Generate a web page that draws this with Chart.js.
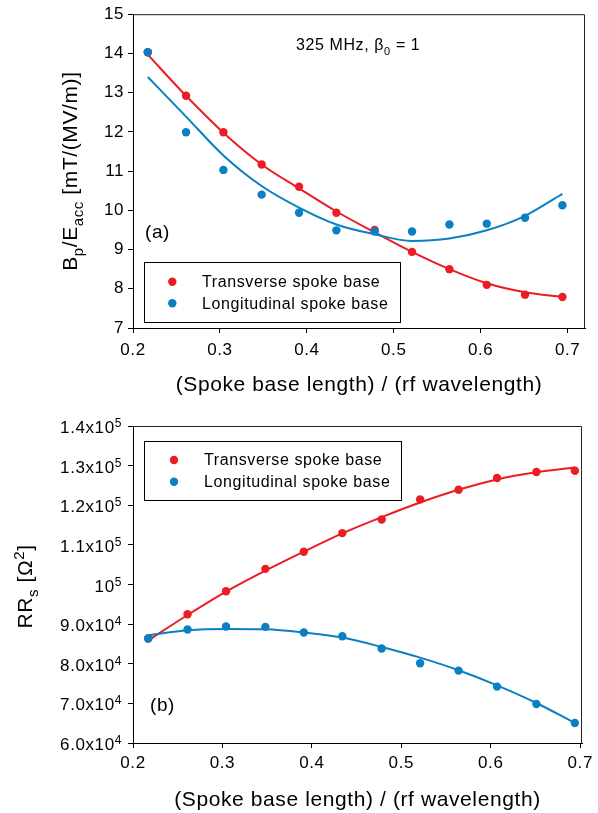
<!DOCTYPE html>
<html>
<head>
<meta charset="utf-8">
<script src="https://cdn.jsdelivr.net/npm/chart.js@4.4.1/dist/chart.umd.min.js"></script>
<style>
    body { margin: 0; background: #fff; }
    .panel { position: absolute; left: 0; width: 598px; }
</style>
</head>
<body>
<div class="panel" style="top:0;height:400px"><canvas id="bpChart"></canvas></div>
<div class="panel" style="top:400px;height:413px"><canvas id="rrChart"></canvas></div>

<script>
// ---------- DATA ----------
const spokeBase = [0.217, 0.261, 0.304, 0.348, 0.391, 0.434, 0.478, 0.521, 0.564, 0.607, 0.651, 0.694];

// (a) Bp/Eacc [mT/(MV/m)]
const bpTransverse      = [14.03, 12.92, 11.99, 11.17, 10.60, 9.94, 9.50, 8.94, 8.50, 8.10, 7.85, 7.79];
const bpLongitudinal    = [14.03, 11.99, 11.03, 10.40, 9.94, 9.49, 9.46, 9.46, 9.64, 9.66, 9.81, 10.13];
const bpTransverseFit   = [13.97, 12.92, 11.98, 11.17, 10.56, 9.97, 9.44, 8.94, 8.50, 8.14, 7.91, 7.79];
const bpLongitudinalFit = [13.40, 12.39, 11.40, 10.62, 10.07, 9.64, 9.39, 9.22, 9.28, 9.49, 9.86, 10.42];

// (b) RRs [Ohm^2]
const rrTransverse      = [86360, 92500, 98310, 103950, 108250, 112970, 116420, 121480, 123910, 126860, 128380, 128710];
const rrLongitudinal    = [86360, 88630, 89390, 89300, 87880, 86940, 83830, 80120, 78270, 74230, 69840, 65040];
const rrTransverseFit   = [85900, 92300, 98200, 103500, 108300, 112900, 117000, 120700, 123900, 126500, 128300, 129500];
const rrLongitudinalFit = [87200, 88460, 88790, 88700, 87900, 86620, 84240, 81550, 78360, 74560, 70100, 65040];

const seriesNames = ["Transverse spoke base", "Longitudinal spoke base"];
const xTicks = [0.2, 0.3, 0.4, 0.5, 0.6, 0.7];
const rrTickValues = [60000, 70000, 80000, 90000, 100000, 110000, 120000, 130000, 140000];
const rrTickText = ["6.0x10", "7.0x10", "8.0x10", "9.0x10", "10", "1.1x10", "1.2x10", "1.3x10", "1.4x10"];
const rrTickExp  = ["4", "4", "4", "4", "5", "5", "5", "5", "5"];

const RED = "#ec1c24";
const BLUE = "#0b7fc3";
const FONT = "Arial, 'Liberation Sans', sans-serif";

const toPoints = (xs, ys) => xs.map((x, i) => ({ x: x, y: ys[i] }));

// ---------- RICH TEXT (sub / superscripts) ----------
function partFont(p, size, small) {
    return ((p.sub || p.sup) ? small : size) + "px " + FONT;
}

function drawRich(ctx, parts, x, y, size, small, align) {
    let total = 0;
    parts.forEach(p => {
        ctx.font = partFont(p, size, small);
        total += ctx.measureText(p.t).width;
    });
    let cx = x;
    if (align === "center") cx = x - total / 2;
    if (align === "right") cx = x - total;
    ctx.textAlign = "left";
    parts.forEach(p => {
        ctx.font = partFont(p, size, small);
        let dy = 0;
        if (p.sub) dy = p.subDy || 6;
        if (p.sup) dy = p.supDy || -8.5;
        ctx.fillText(p.t, cx, y + dy);
        cx += ctx.measureText(p.t).width;
    });
}

// ---------- PLUGINS ----------
const spacingPlugin = {
    id: "spacing",
    beforeUpdate(chart) { chart.ctx.letterSpacing = "0.6px"; },
    beforeDraw(chart) { chart.ctx.letterSpacing = "0.6px"; }
};

const decorPlugin = {
    id: "decor",
    afterDraw(chart, args, opts) {
        const ctx = chart.ctx;
        const area = chart.chartArea;
        ctx.save();
        ctx.fillStyle = "#000";
        ctx.textBaseline = "alphabetic";

        // frame top + right
        ctx.strokeStyle = "#222";
        ctx.lineWidth = 1;
        ctx.beginPath();
        ctx.moveTo(area.left, area.top + 0.5);
        ctx.lineTo(area.right - 0.5, area.top + 0.5);
        ctx.lineTo(area.right - 0.5, area.bottom);
        ctx.stroke();

        // y title
        ctx.save();
        ctx.translate(opts.yTitleX, (area.top + area.bottom) / 2 + (opts.yTitleShift || 0));
        ctx.rotate(-Math.PI / 2);
        drawRich(ctx, opts.yTitle, 0, 0, 21, 15, "center");
        ctx.restore();

        // notes
        (opts.notes || []).forEach(n => {
            drawRich(ctx, n.parts, n.x, n.y, n.size, n.small, "left");
        });

        // legend, in the order of seriesNames
        const lg = opts.legend;
        ctx.strokeStyle = "#000";
        ctx.strokeRect(lg.x + 0.5, lg.y + 0.5, lg.w, lg.h);
        seriesNames.forEach((name, i) => {
            const d = chart.data.datasets.find(ds => ds.showInLegend && ds.label === name);
            if (!d) return;
            const cy = lg.rowY + i * lg.rowGap;
            ctx.fillStyle = d.backgroundColor;
            ctx.beginPath();
            ctx.arc(lg.dotX, cy, 4.2, 0, Math.PI * 2);
            ctx.fill();
            ctx.fillStyle = "#000";
            ctx.font = "16px " + FONT;
            ctx.textBaseline = "middle";
            ctx.fillText(d.label, lg.textX, cy + 1);
            ctx.textBaseline = "alphabetic";
        });

        // custom y tick labels with exponents
        if (opts.expTicks) {
            const yScale = chart.scales.y;
            rrTickValues.forEach((v, i) => {
                const py = yScale.getPixelForValue(v);
                ctx.font = "12px " + FONT;
                const ew = ctx.measureText(rrTickExp[i]).width;
                const ex = 122 - ew;
                ctx.textAlign = "left";
                ctx.fillText(rrTickExp[i], ex, py + 1);
                ctx.font = "17px " + FONT;
                ctx.textAlign = "right";
                ctx.fillText(rrTickText[i], ex, py + 7);
            });
        }
        ctx.restore();
    }
};

// ---------- COMMON ----------
function xAxis(max, height, pad, titlePad) {
    return {
        type: "linear",
        min: 0.2,
        max: max,
        afterFit(scale) { scale.height = height; },
        afterBuildTicks(scale) { scale.ticks = xTicks.map(v => ({ value: v })); },
        ticks: {
            color: "#000",
            padding: pad,
            font: { family: FONT, size: 17 },
            callback: v => v.toFixed(1)
        },
        grid: { drawOnChartArea: false, drawTicks: true, tickLength: 5, color: "#000" },
        border: { color: "#000", width: 1 },
        title: {
            display: true,
            text: "(Spoke base length) / (rf wavelength)",
            color: "#000",
            font: { family: FONT, size: 21 },
            padding: { top: 0, bottom: titlePad }
        }
    };
}

function buildDatasets(tr, lo, trFit, loFit) {
    return [
        {
            label: seriesNames[1], data: toPoints(spokeBase, lo), showInLegend: true,
            backgroundColor: BLUE, borderColor: BLUE, pointRadius: 4.2, pointBorderWidth: 0,
            showLine: false, order: 0
        },
        {
            label: seriesNames[0], data: toPoints(spokeBase, tr), showInLegend: true,
            backgroundColor: RED, borderColor: RED, pointRadius: 4.2, pointBorderWidth: 0,
            showLine: false, order: 1
        },
        {
            label: "fit-l", data: toPoints(spokeBase, loFit),
            borderColor: BLUE, borderWidth: 2, pointRadius: 0, showLine: true,
            cubicInterpolationMode: "monotone", order: 2
        },
        {
            label: "fit-t", data: toPoints(spokeBase, trFit),
            borderColor: RED, borderWidth: 2, pointRadius: 0, showLine: true,
            cubicInterpolationMode: "monotone", order: 3
        }
    ];
}

// ---------- (a) PEAK FIELD ----------
new Chart(document.getElementById("bpChart").getContext("2d"), {
    type: "scatter",
    data: { datasets: buildDatasets(bpTransverse, bpLongitudinal, bpTransverseFit, bpLongitudinalFit) },
    options: {
        responsive: true,
        maintainAspectRatio: false,
        animation: false,
        layout: { padding: { top: 12, right: 13, bottom: 0, left: 0 } },
        plugins: {
            legend: { display: false },
            tooltip: { enabled: false },
            decor: {
                yTitleX: 77,
                yTitle: [
                    { t: "B" }, { t: "p", sub: true }, { t: "/E" }, { t: "acc", sub: true },
                    { t: " [mT/(MV/m)]" }
                ],
                notes: [
                    { parts: [{ t: "325 MHz, β" }, { t: "0", sub: true, subDy: 5 }, { t: " = 1" }], x: 296, y: 50, size: 16, small: 11 },
                    { parts: [{ t: "(a)" }], x: 145, y: 238, size: 19, small: 12 }
                ],
                legend: { x: 144, y: 262, w: 256, h: 60, dotX: 172.3, rowY: 281.7, rowGap: 21.6, textX: 202 }
            }
        },
        scales: {
            x: xAxis(0.72, 72, 7, 2),
            y: {
                min: 7,
                max: 15,
                afterFit(scale) { scale.width = 133; },
                ticks: {
                    stepSize: 1,
                    color: "#000",
                    padding: 4,
                    font: { family: FONT, size: 17 }
                },
                grid: { drawOnChartArea: false, drawTicks: true, tickLength: 5, color: "#000" },
                border: { color: "#000", width: 1 }
            }
        }
    },
    plugins: [spacingPlugin, decorPlugin]
});

// ---------- (b) RRs ----------
new Chart(document.getElementById("rrChart").getContext("2d"), {
    type: "scatter",
    data: { datasets: buildDatasets(rrTransverse, rrLongitudinal, rrTransverseFit, rrLongitudinalFit) },
    options: {
        responsive: true,
        maintainAspectRatio: false,
        animation: false,
        layout: { padding: { top: 26, right: 13, bottom: 0, left: 0 } },
        plugins: {
            legend: { display: false },
            tooltip: { enabled: false },
            decor: {
                yTitleX: 32,
                yTitleShift: 2,
                yTitle: [
                    { t: "RR" }, { t: "s", sub: true }, { t: " [Ω" }, { t: "2", sup: true, supDy: -8.5 }, { t: "]" }
                ],
                notes: [
                    { parts: [{ t: "(b)" }], x: 150, y: 311, size: 19, small: 12 }
                ],
                legend: { x: 144, y: 41, w: 257, h: 59, dotX: 174, rowY: 60, rowGap: 21.7, textX: 204 },
                expTicks: true
            }
        },
        scales: {
            x: xAxis(0.702, 70, 5, 0),
            y: {
                min: 60000,
                max: 140000,
                afterFit(scale) { scale.width = 133; },
                ticks: {
                    stepSize: 10000,
                    callback: () => ""
                },
                grid: { drawOnChartArea: false, drawTicks: true, tickLength: 5, color: "#000" },
                border: { color: "#000", width: 1 }
            }
        }
    },
    plugins: [spacingPlugin, decorPlugin]
});
</script>
</body>
</html>
